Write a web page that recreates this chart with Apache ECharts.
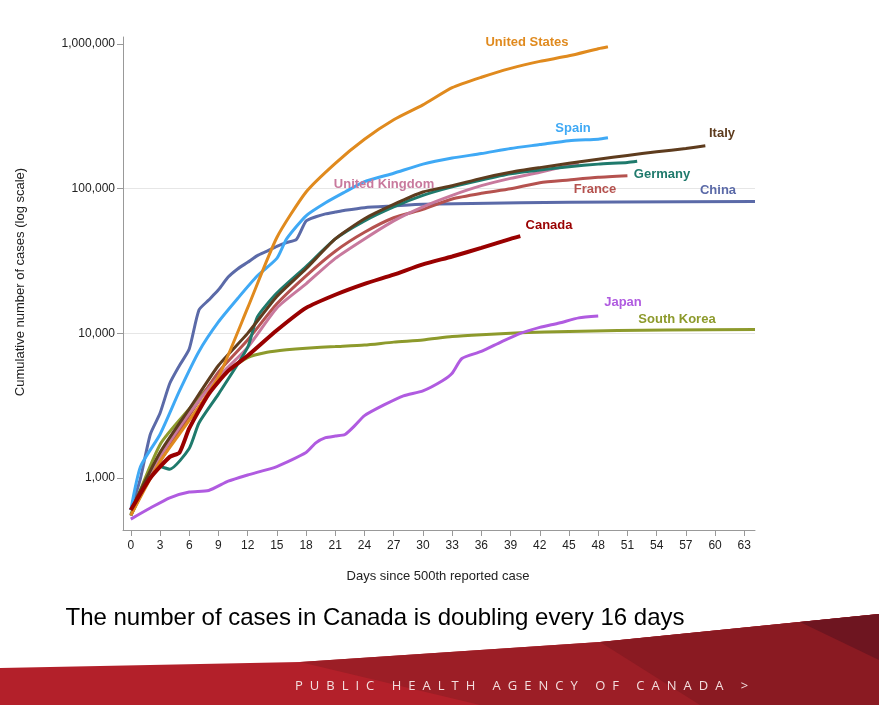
<!DOCTYPE html>
<html><head><meta charset="utf-8">
<script src="https://cdn.jsdelivr.net/npm/echarts@6/dist/echarts.min.js"></script>
<style>html,body{margin:0;padding:0;background:#fff}#c{width:879px;height:705px}
#b{position:absolute;left:295px;top:676px;color:#f3dede;font:13px "Open Sans","Liberation Sans",sans-serif;letter-spacing:7px;white-space:nowrap}</style>
</head><body><div id="c"></div><div id="b">PUBLIC HEALTH AGENCY OF CANADA &gt;</div>
<script>
const xTicks=[0,3,6,9,12,15,18,21,24,27,30,33,36,39,42,45,48,51,54,57,60,63];
const yTicks=[1000,10000,100000,1000000];
const china=[[0,600],[1,1000],[2,2000],[3,2800],[4,4500],[5,6000],[6,7800],[7,14500],[8,17000],[9,20000],[10,24500],[11,28000],[12,31000],[13,34500],[14,37000],[15,40000],[16,42500],[17,44500],[18,59800],[19,64000],[20,67000],[21,69000],[22,71000],[24,74000],[27,76000],[30,78000],[40,80000],[50,81000],[64.1,81500]];
const us=[[0,550],[3,1300],[6,2500],[9,5000],[12,15000],[15,46000],[18,95000],[21,150000],[24,220000],[27,300000],[30,380000],[33,500000],[36,590000],[39,680000],[42,760000],[45,830000],[48,930000],[49,960000]];
const spain=[[0,600],[1,1200],[3,2000],[5,4000],[7,7500],[9,12000],[11,17500],[13,25000],[15,33000],[16,45000],[18,65000],[20,80000],[22,95000],[24,112000],[27,128000],[30,148000],[33,163000],[36,175000],[39,190000],[42,202000],[45,215000],[48,220000],[49,225000]];
const italy=[[0,600],[3,1500],[6,3000],[9,6000],[12,10000],[15,18000],[18,28000],[21,45000],[24,62000],[27,78000],[30,95000],[33,105000],[36,118000],[39,130000],[42,140000],[45,150000],[48,160000],[51,170000],[54,180000],[57,190000],[59,198000]];
const germany=[[0,550],[3,1200],[4,1150],[6,1600],[7,2400],[9,3800],[12,8000],[13,13000],[15,19000],[18,29000],[21,45000],[24,60000],[27,75000],[30,90000],[33,103000],[36,115000],[39,127000],[42,135000],[45,142000],[48,148000],[51,152000],[52,155000]];
const uk=[[0,550],[3,1400],[6,2800],[9,5000],[12,8000],[15,15000],[18,22000],[21,33000],[24,45000],[27,60000],[30,75000],[33,90000],[36,105000],[39,118000],[42,130000],[45,145000],[46,150000]];
const france=[[0,600],[3,1300],[6,2700],[9,5400],[12,9000],[15,16000],[18,25000],[21,37000],[24,50000],[27,63000],[30,72000],[33,85000],[36,93000],[39,100000],[42,110000],[45,115000],[48,120000],[51,123000]];
const canada=[[0,600],[2,1000],[4,1400],[5,1500],[6,2200],[8,3800],[10,5500],[12,7000],[15,10500],[18,15000],[21,18500],[24,22000],[27,25500],[30,30000],[33,34000],[36,39000],[39,45000],[40,47000]];
const japan=[[0,520],[2,620],[4,730],[6,800],[8,820],[10,950],[12,1050],[15,1200],[18,1500],[19,1750],[20,1900],[21,1950],[22,2000],[23,2300],[24,2700],[26,3200],[28,3700],[30,4000],[32,4700],[33,5300],[34,6700],[36,7500],[38,8700],[40,10000],[42,11000],[44,11800],[46,12800],[48,13200]];
const korea=[[0,560],[3,1700],[6,3000],[9,5000],[12,6800],[14,7400],[16,7700],[18,7900],[21,8100],[24,8300],[27,8700],[30,9000],[33,9500],[36,9800],[40,10100],[45,10300],[50,10450],[55,10550],[64.1,10650]];
const S=[['China',china,'#5b6aa8',3],['South Korea',korea,'#8d9a2c',3],['Japan',japan,'#b05be0',3],['France',france,'#b5524f',3],['United Kingdom',uk,'#c8799d',3],['Germany',germany,'#1f7a6c',3],['Italy',italy,'#5e3c1e',3],['Spain',spain,'#3fa9f5',3],['United States',us,'#e08a1e',3],['Canada',canada,'#990000',4]];
const labels=[['United States',527,42,'#e08a1e'],['Spain',573,128,'#3fa9f5'],['Italy',722,133,'#5e3c1e'],['Germany',662,174,'#1f7a6c'],['China',718,190,'#5b6aa8'],['France',595,189,'#b5524f'],['United Kingdom',384,184,'#c8799d'],['Canada',549,225,'#990000'],['Japan',623,302,'#b05be0'],['South Korea',677,319,'#8d9a2c']];
const F='"Liberation Sans",Arial,sans-serif';
const ch=echarts.init(document.getElementById('c'),null,{renderer:'canvas'});
const g=labels.map(l=>({type:'text',z:10,x:l[1],y:l[2],style:{text:l[0],fill:l[3],font:'bold 13px '+F,textAlign:'center',textVerticalAlign:'middle'}}));
g.push({type:'text',x:20,y:282,rotation:Math.PI/2,style:{text:'Cumulative number of cases (log scale)',fill:'#222',font:'13px '+F,textAlign:'center',textVerticalAlign:'middle'}});
g.push({type:'text',x:438,y:576,style:{text:'Days since 500th reported case',fill:'#222',font:'13px '+F,textAlign:'center',textVerticalAlign:'middle'}});
g.push({type:'text',x:375,y:618,style:{text:'The number of cases in Canada is doubling every 16 days',fill:'#000',font:'24px '+F,textAlign:'center',textVerticalAlign:'middle'}});
g.push({type:'polygon',z:-1,shape:{points:[[0,668],[300,662],[600,642],[879,614],[879,705],[0,705]]},style:{fill:'#b3202a'}});
g.push({type:'polygon',z:-1,shape:{points:[[300,662],[600,642],[879,614],[879,705],[480,705]]},style:{fill:'#9c1e26'}});
g.push({type:'polygon',z:-1,shape:{points:[[600,642],[879,614],[879,705],[700,705]]},style:{fill:'#8a1a22'}});
g.push({type:'polygon',z:-1,shape:{points:[[800,622],[879,614],[879,660]]},style:{fill:'#6e1520'}});
ch.setOption({animation:false,
grid:{left:123,right:124,top:37,bottom:175},
xAxis:{type:'value',min:-0.8,max:64.1,axisLine:{onZero:false,lineStyle:{color:'#999'}},splitLine:{show:false},
 axisTick:{customValues:xTicks,length:6,lineStyle:{color:'#999'}},axisLabel:{customValues:xTicks,color:'#222',fontSize:12,fontFamily:F,margin:10}},
yAxis:{type:'log',logBase:10,min:437,max:1120000,axisLine:{show:true,onZero:false,lineStyle:{color:'#999'}},
 axisTick:{show:true,customValues:yTicks,length:6,lineStyle:{color:'#999'}},
 axisLabel:{customValues:yTicks,color:'#222',fontSize:12,fontFamily:F,formatter:v=>Math.round(v).toLocaleString('en-US')},
 splitLine:{show:true,showMinLine:false,showMaxLine:false,lineStyle:{color:'#e6e6e6'}}},
graphic:g,
series:S.map(s=>({type:'line',name:s[0],data:s[1],showSymbol:false,smooth:0.2,lineStyle:{color:s[2],width:s[3]},itemStyle:{color:s[2]}}))
});
</script></body></html>
